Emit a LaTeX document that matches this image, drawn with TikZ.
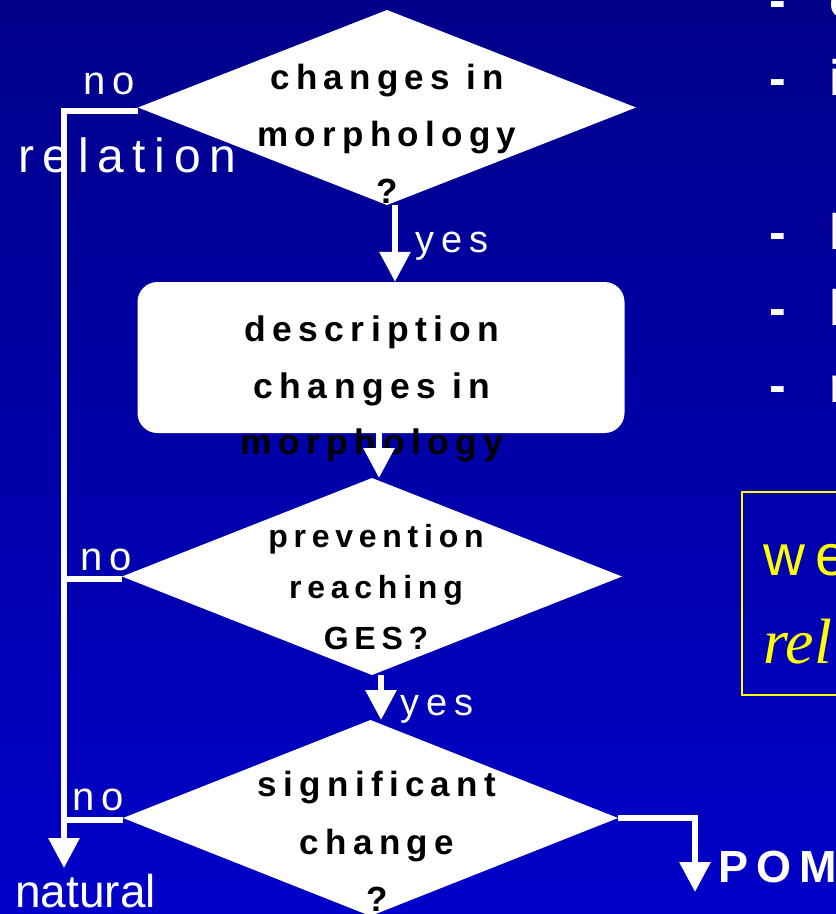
\documentclass[tikz,border=0pt]{standalone}
\usepackage{fontspec}
\setmainfont{Liberation Sans}
\newfontfamily\spfont[LetterSpace=18]{Liberation Sans}
\newfontfamily\serfont{Liberation Serif}
\usetikzlibrary{arrows.meta,shapes.geometric}
\definecolor{bgtop}{RGB}{0,0,138}
\definecolor{bgbot}{RGB}{0,0,200}
\definecolor{ylw}{RGB}{255,255,0}
\tikzset{
  dia/.style={diamond, fill=white, inner sep=0pt, outer sep=0pt},
  qtext/.style={align=center, inner sep=0pt, text=black},
  lbl/.style={text=white, inner sep=0pt, anchor=base west},
  bul/.style={text=white, inner sep=0pt, anchor=base west, font=\bfseries\fontsize{50}{50}\selectfont},
  wline/.style={draw=white, line width=6pt},
  warr/.style={wline, -{Triangle[width=30pt,length=30pt]}},
}
\begin{document}
\begin{tikzpicture}[x=1pt,y=-1pt]
\useasboundingbox (0,0) rectangle (836,914);
\clip (0,0) rectangle (836,914);
\shade[top color=bgtop,bottom color=bgbot] (0,0) rectangle (836,914);

% right side: bullets (cut off at the edge)
\node[bul] (b1) at (769,17.5) {-\hskip44pt c};
\node[bul] (b2) at (769,95.5) {-\hskip44pt i};
\node[bul] (b3) at (769,249.5) {-\hskip44pt l};
\node[bul] (b4) at (769,325.5) {-\hskip44pt l};
\node[bul] (b5) at (769,402.5) {-\hskip44pt r};

% yellow box
\draw[ylw, line width=1.5pt] (742,492) rectangle (850,695);
\node[lbl, text=ylw, font=\spfont\fontsize{58}{58}\selectfont] (we) at (763,575) {we};
\node[lbl, text=ylw, font=\serfont\itshape\fontsize{64}{64}\selectfont] (rel) at (763,663) {rel};

% shapes
\node[dia, minimum width=498pt, minimum height=195pt] (d1) at (387,107.5) {};
\node[fill=white, rounded corners=20pt, inner sep=0pt, minimum width=487pt, minimum height=151pt] (box) at (381,357.5) {};
\node[dia, minimum width=500pt, minimum height=197pt] (d2) at (372,576.5) {};
\node[dia, minimum width=495pt, minimum height=196pt] (d3) at (370.5,818) {};

% texts
\node[qtext, font=\spfont\bfseries\fontsize{35}{57}\selectfont] (t1) at (387,134) {changes in\\morphology\\?};
\node[qtext, font=\spfont\bfseries\fontsize{35.5}{56.5}\selectfont] (t2) at (372,389.3) {description\\changes in\\morphology};
\node[qtext, font=\spfont\bfseries\fontsize{32}{51}\selectfont] (t3) at (376,587.5) {prevention\\reaching\\GES?};
\node[qtext, font=\spfont\bfseries\fontsize{35}{57.5}\selectfont] (t4) at (377,841.5) {significant\\change\\?};

% labels
\node[lbl, font=\spfont\fontsize{40}{40}\selectfont] (no1) at (83,94) {no};
\node[lbl, font=\spfont\fontsize{48}{48}\selectfont] (relation) at (18,172) {relation};
\node[lbl, font=\spfont\fontsize{38}{38}\selectfont] (yes1) at (415,252) {yes};
\node[lbl, font=\spfont\fontsize{40}{40}\selectfont] (no2) at (80,570) {no};
\node[lbl, font=\spfont\fontsize{38}{38}\selectfont] (yes2) at (400,715) {yes};
\node[lbl, font=\spfont\fontsize{40}{40}\selectfont] (no3) at (72,810) {no};
\node[lbl, font=\fontsize{46}{46}\selectfont] (natural) at (15,907) {natural};
\node[lbl, font=\spfont\bfseries\fontsize{45}{45}\selectfont] (pom) at (718,882) {POM};

% connectors
\coordinate (natend) at (64,868);
\coordinate (pomend) at (695,892);
\draw[warr] ([xshift=8pt]d1.south) -- ([xshift=8pt]d1.south |- box.north);
\draw[warr] ([xshift=7pt]d2.north |- box.south) -- ([xshift=7pt]d2.north);
\draw[warr] ([xshift=9pt]d2.south) -- ([xshift=9pt]d2.south |- d3.north);
\draw[warr] ([yshift=-3pt]d1.west) -| (natend);
\draw[wline] ([yshift=-2.5pt]d2.west) -- ([yshift=-2.5pt]d2.west -| natend);
\draw[wline] ([yshift=-2pt]d3.west) -- ([yshift=-2pt]d3.west -| natend);
\draw[warr] (d3.east) -| (pomend);
\end{tikzpicture}
\end{document}
